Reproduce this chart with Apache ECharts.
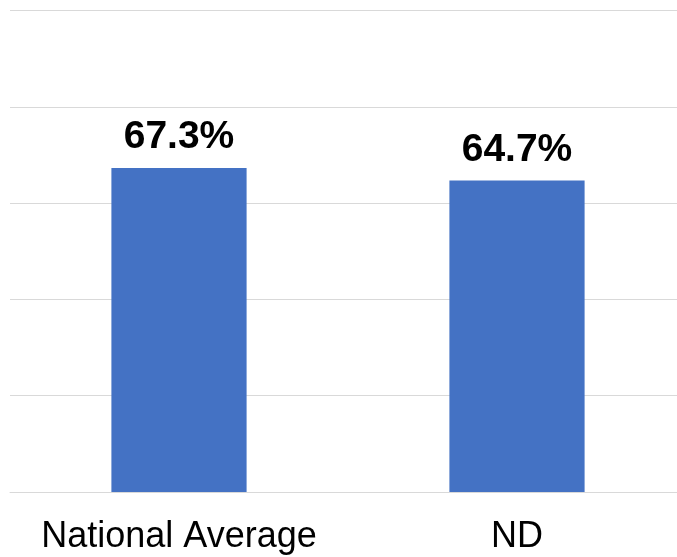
<!DOCTYPE html>
<html>
<head>
<meta charset="utf-8">
<script src="https://cdn.jsdelivr.net/npm/echarts@6/dist/echarts.min.js"></script>
<style>html,body{margin:0;padding:0;background:#fff;overflow:hidden}#c{width:686px;height:557px}</style>
</head>
<body>
<div id="c"></div>
<script>
var categories = ['National Average', 'ND'];
var values = [67.3, 64.7];
var yMin = 0, yMax = 100, yStep = 20;

var chart = echarts.init(document.getElementById('c'), null, {renderer: 'canvas'});
chart.setOption({
  animation: false,
  grid: {left: 10, right: 0, top: 10.5, bottom: 65, containLabel: false},
  xAxis: {
    type: 'category',
    data: categories,
    axisLine: {show: true, lineStyle: {color: '#d9d9d9', width: 1}},
    axisTick: {show: false},
    axisLabel: {interval: 0, color: '#000', fontFamily: 'Liberation Sans, Arial, sans-serif', fontSize: 36, margin: 27}
  },
  yAxis: {
    type: 'value', min: yMin, max: yMax, interval: yStep,
    axisLine: {show: false}, axisTick: {show: false}, axisLabel: {show: false},
    splitLine: {lineStyle: {color: '#d9d9d9', width: 1}}
  },
  series: [{
    type: 'bar',
    data: values,
    barWidth: '40%',
    itemStyle: {color: '#4472C4'},
    label: {
      show: true, position: 'top', distance: 11,
      formatter: function(p){ return p.value.toFixed(1) + '%'; },
      color: '#000', fontWeight: 'bold', fontFamily: 'Liberation Sans, Arial, sans-serif', fontSize: 39
    }
  }]
});
</script>
</body>
</html>
